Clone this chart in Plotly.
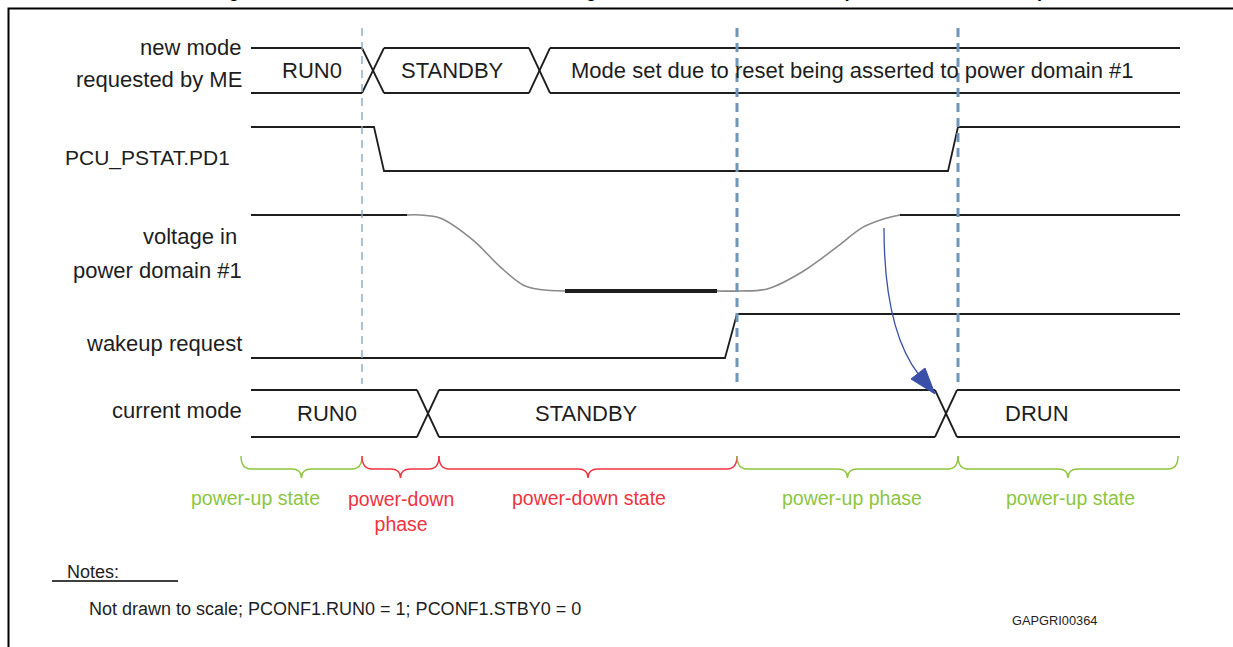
import plotly.graph_objects as go

# ---------------- data (diagram time units / signal levels) ----------------
T_START, T_END = 251, 1180

# bus: "new mode requested by ME"
new_mode_states = ["RUN0", "STANDBY", "Mode set due to reset being asserted to power domain #1"]
new_mode_cross = [(362, 384), (529, 550)]
new_mode_text_x = [312, 452, 569]

# bus: "current mode"
cur_mode_states = ["RUN0", "STANDBY", "DRUN"]
cur_mode_cross = [(417, 439), (935, 957)]
cur_mode_text_x = [327, 586, 1037]

# PCU_PSTAT.PD1 (1 = high, 0 = low)
pstat_t = [251, 374, 384, 948, 958, 1180]
pstat_v = [1, 1, 0, 0, 1, 1]

# wakeup request
wake_t = [251, 725, 737, 1180]
wake_v = [0, 0, 1, 1]

# voltage in power domain #1 (normalised 0..1)
volt_hi_t = [251, 407]
volt_fall_t = [407, 420, 440, 473, 500, 523, 540, 565]
volt_fall_v = [1, 1, 0.96, 0.67, 0.32, 0.08, 0.02, 0]
volt_lo_t = [565, 717]
volt_rise_t = [717, 740, 768, 802, 836, 863, 884, 900]
volt_rise_v = [0, 0, 0.03, 0.25, 0.57, 0.84, 0.95, 1]
volt_hi2_t = [900, 1180]

# phase markers
marker_t = [362, 737, 958]

# phase braces
brace_spans = [(241, 362), (362, 439), (439, 737), (737, 958), (958, 1178)]
brace_labels = ["power-up state", "power-down<br>phase", "power-down state", "power-up phase", "power-up state"]
brace_label_x = [255, 401, 589, 852, 1070]
brace_kind = ["up", "down", "down", "up", "up"]

row_labels = ["new mode", "requested by ME", "PCU_PSTAT.PD1", "voltage in", "power domain #1",
              "wakeup request", "current mode"]

# ---------------- layout geometry ----------------
W, H = 1233, 647
ROW = {  # (y high, y low)
    "new": (48, 93),
    "pstat": (127, 171),
    "volt": (215, 291),
    "wake": (314, 358),
    "cur": (390, 437),
}
LABEL_POS = [(244, 47), (244, 79), (232, 158), (239, 236), (244, 270), (244, 343), (244, 410)]
LABEL_SIZE = [22, 22, 21, 22, 22, 22, 22]

FONT = "Liberation Sans, Arial, Helvetica, sans-serif"
INK = "#1e1e1e"
GREEN = "#8cc63f"
RED = "#ef3340"
DASH_BLUE = "#6f96b8"
ARROW_BLUE = "#3a4fa8"

fig = go.Figure()


def lvl(row, v):
    hi, lo = ROW[row]
    return lo + (hi - lo) * v


def line(xs, ys, color=INK, width=1.8, shape="linear"):
    fig.add_trace(go.Scatter(x=xs, y=ys, mode="lines", line=dict(color=color, width=width, shape=shape),
                             hoverinfo="skip", showlegend=False))


def bus(row, cross, states, tx, anchors):
    hi, lo = ROW[row]
    edges = [T_START] + [c for pair in cross for c in pair] + [T_END]
    for i in range(0, len(edges), 2):
        line([edges[i], edges[i + 1]], [hi, hi])
        line([edges[i], edges[i + 1]], [lo, lo])
    for a, b in cross:
        line([a, b], [hi, lo])
        line([a, b], [lo, hi])
    for s, x, anc in zip(states, tx, anchors):
        fig.add_annotation(x=x, y=(hi + lo) / 2, text=s, showarrow=False, xanchor=anc,
                           font=dict(family=FONT, size=22, color=INK))


bus("new", new_mode_cross, new_mode_states, new_mode_text_x, ["center", "center", "left"])
bus("cur", cur_mode_cross, cur_mode_states, cur_mode_text_x, ["center", "center", "center"])

line(pstat_t, [lvl("pstat", v) for v in pstat_v])
line(wake_t, [lvl("wake", v) for v in wake_v])

line(volt_hi_t, [lvl("volt", 1)] * 2)
line(volt_fall_t, [lvl("volt", v) for v in volt_fall_v], color="#8a8a8a", width=1.6, shape="spline")
line(volt_lo_t, [lvl("volt", 0)] * 2, width=4)
line(volt_rise_t, [lvl("volt", v) for v in volt_rise_v], color="#8a8a8a", width=1.6, shape="spline")
line(volt_hi2_t, [lvl("volt", 1)] * 2)

# row labels
for txt, (x, y), sz in zip(row_labels, LABEL_POS, LABEL_SIZE):
    fig.add_annotation(x=x, y=y, text=txt, showarrow=False, xanchor="right",
                       font=dict(family=FONT, size=sz, color=INK))

shapes = []
# phase marker dashed lines
for i, t in enumerate(marker_t):
    shapes.append(dict(type="line", x0=t, x1=t, y0=28, y1=384,
                       line=dict(color=DASH_BLUE if i else "#86a9c6", width=1.4 if i == 0 else 3,
                                 dash="9px,6px" if i else "8px,6px")))

# braces
for (x0, x1), lab, lx, kind in zip(brace_spans, brace_labels, brace_label_x, brace_kind):
    col = GREEN if kind == "up" else RED
    xm = (x0 + x1) / 2
    yt, ym, yp, r = 456, 469, 478, 10
    p = (f"M {x0},{yt} Q {x0},{ym} {x0 + r},{ym} L {xm - r},{ym} Q {xm},{ym} {xm},{yp} "
         f"Q {xm},{ym} {xm + r},{ym} L {x1 - r},{ym} Q {x1},{ym} {x1},{yt}")
    shapes.append(dict(type="path", path=p, line=dict(color=col, width=1.4)))
    two = "<br>" in lab
    fig.add_annotation(x=lx, y=498, text=lab, showarrow=False, yanchor="top" if two else "middle",
                       yshift=12 if two else 0,
                       font=dict(family=FONT, size=19.5, color=col))

# curved arrow from voltage to mode switch
shapes.append(dict(type="path", path="M 884,228 Q 884,330 919,375",
                   line=dict(color=ARROW_BLUE, width=1.3)))
shapes.append(dict(type="path", path="M 935,394 L 911,379 L 925,368 Z",
                   fillcolor=ARROW_BLUE, line=dict(color=ARROW_BLUE, width=1)))

# frame (left and top edges of the figure box)
shapes.append(dict(type="path", path=f"M 8.5,{H} L 8.5,8.5 L {W},8.5",
                   line=dict(color="#000", width=2)))
# notes underline
shapes.append(dict(type="line", x0=52, x1=178, y0=581, y1=581, line=dict(color="#000", width=1.5)))

fig.update_layout(shapes=shapes)

# title (cut off by the page top, as in the source figure)
fig.add_annotation(xref="paper", yref="paper", x=628 / W, y=1 + 9 / H,
                   text="<b>Figure 145. PCU_PSTAT.PD1 behaviour during STANDBY mode, then DRUN (PD1 reset in STANDBY)</b>",
                   showarrow=False, xanchor="center", yanchor="middle",
                   font=dict(family=FONT, size=17.5, color="#000"))

# notes
fig.add_annotation(x=65, y=572, text="Notes:", showarrow=False, xanchor="left",
                   font=dict(family=FONT, size=18, color=INK))
fig.add_annotation(x=87, y=609, text="Not drawn to scale; PCONF1.RUN0 = 1; PCONF1.STBY0 = 0", showarrow=False,
                   xanchor="left", font=dict(family=FONT, size=18, color=INK))
fig.add_annotation(x=1010, y=620, text="GAPGRI00364", showarrow=False, xanchor="left",
                   font=dict(family=FONT, size=12.8, color=INK))

fig.update_layout(
    width=W, height=H, margin=dict(l=0, r=0, t=0, b=0), autosize=False,
    paper_bgcolor="white", plot_bgcolor="white",
    xaxis=dict(range=[0, W], visible=False, fixedrange=True),
    yaxis=dict(range=[H, 0], visible=False, fixedrange=True),
    showlegend=False,
)

fig.write_html("out.html", config={"displayModeBar": False, "staticPlot": True},
               post_script="document.documentElement.style.overflow='hidden';"
                           "document.body.style.margin='0';document.body.style.overflow='hidden';")
